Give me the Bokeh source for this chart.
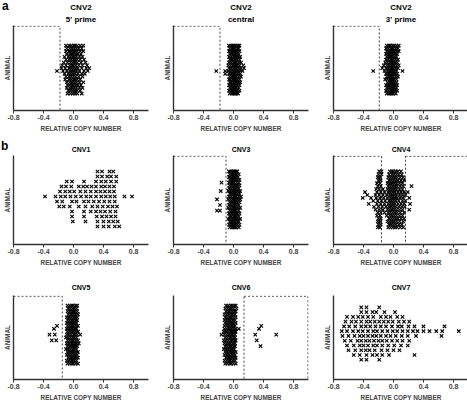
from bokeh.plotting import figure
from bokeh.models import Range1d, FixedTicker, NumeralTickFormatter, Title, GridBox, Div
from bokeh.embed import file_html
from bokeh.resources import INLINE

FONT = "Liberation Sans"
TICK_VALUES = [-0.8, -0.4, 0.0, 0.4, 0.8]
X_AXIS_LABEL = "RELATIVE COPY NUMBER"
Y_AXIS_LABEL = "ANIMAL"
PANEL_LETTERS = ["a", "b"]

# ---- data: each panel is a list of animal rows (bottom -> top), values = relative copy number
cnv2_5prime = [
    [-0.08, -0.04, -0.01, 0.02, 0.05, 0.11],
    [-0.07, -0.04, -0.01, 0.02, 0.05, 0.09],
    [-0.09, -0.05, -0.02, 0.01, 0.04, 0.08, 0.12],
    [-0.08, -0.05, -0.02, 0.0, 0.03, 0.06, 0.10],
    [-0.09, -0.05, -0.02, 0.01, 0.04, 0.08, 0.13],
    [-0.11, -0.06, -0.03, 0.0, 0.02, 0.05, 0.09],
    [-0.10, -0.06, -0.03, 0.0, 0.03, 0.07, 0.12],
    [-0.12, -0.07, -0.04, -0.01, 0.02, 0.06, 0.11, 0.15],
    [-0.22, -0.14, -0.09, -0.05, -0.02, 0.01, 0.04, 0.08, 0.14, 0.19],
    [-0.16, -0.11, -0.06, -0.03, 0.0, 0.03, 0.06, 0.11, 0.17, 0.21],
    [-0.15, -0.10, -0.05, -0.02, 0.0, 0.03, 0.07, 0.12, 0.18],
    [-0.13, -0.08, -0.04, -0.01, 0.02, 0.05, 0.10, 0.16],
    [-0.10, -0.06, -0.03, 0.0, 0.02, 0.05, 0.09, 0.14],
    [-0.12, -0.07, -0.04, -0.01, 0.01, 0.04, 0.08, 0.12],
    [-0.09, -0.05, -0.02, 0.0, 0.03, 0.06, 0.10],
    [-0.10, -0.06, -0.03, 0.0, 0.02, 0.05, 0.09, 0.13],
    [-0.09, -0.05, -0.02, 0.01, 0.04, 0.07, 0.11],
    [-0.10, -0.06, -0.03, 0.0, 0.02, 0.05, 0.09, 0.13],
]
cnv2_central = [
    [-0.05, -0.02, 0.0, 0.02, 0.04, 0.06],
    [-0.06, -0.03, -0.01, 0.01, 0.03, 0.05, 0.08],
    [-0.05, -0.02, 0.0, 0.02, 0.04, 0.07],
    [-0.06, -0.03, -0.01, 0.01, 0.03, 0.05, 0.08],
    [-0.05, -0.03, 0.0, 0.02, 0.04, 0.06, 0.09],
    [-0.06, -0.04, -0.01, 0.01, 0.03, 0.05, 0.08],
    [-0.05, -0.02, 0.0, 0.02, 0.04, 0.07, 0.10],
    [-0.11, -0.06, -0.03, -0.01, 0.01, 0.03, 0.06, 0.09],
    [-0.23, -0.11, -0.07, -0.04, -0.01, 0.01, 0.03, 0.06, 0.09, 0.12],
    [-0.06, -0.03, 0.0, 0.02, 0.04, 0.07, 0.10, 0.14],
    [-0.07, -0.04, -0.01, 0.01, 0.03, 0.05, 0.08, 0.13],
    [-0.06, -0.03, 0.0, 0.02, 0.04, 0.07, 0.10],
    [-0.05, -0.03, -0.01, 0.01, 0.03, 0.05, 0.08],
    [-0.06, -0.03, 0.0, 0.02, 0.04, 0.06, 0.09],
    [-0.05, -0.02, 0.0, 0.02, 0.04, 0.07],
    [-0.06, -0.03, -0.01, 0.01, 0.03, 0.05, 0.08],
    [-0.05, -0.02, 0.0, 0.02, 0.05, 0.07],
    [-0.06, -0.03, -0.01, 0.01, 0.03, 0.06, 0.08],
]
cnv2_3prime = [
    [-0.09, -0.06, -0.04, -0.02, 0.0, 0.03],
    [-0.10, -0.07, -0.04, -0.02, 0.0, 0.02, 0.05],
    [-0.09, -0.06, -0.03, -0.01, 0.01, 0.04],
    [-0.10, -0.07, -0.05, -0.02, 0.0, 0.02, 0.05],
    [-0.08, -0.05, -0.03, -0.01, 0.01, 0.04],
    [-0.11, -0.08, -0.05, -0.03, -0.01, 0.01, 0.04],
    [-0.09, -0.06, -0.04, -0.02, 0.0, 0.03, 0.06],
    [-0.10, -0.07, -0.05, -0.02, 0.0, 0.02, 0.05],
    [-0.27, -0.12, -0.08, -0.05, -0.03, -0.01, 0.01, 0.04, 0.12],
    [-0.15, -0.10, -0.07, -0.04, -0.02, 0.0, 0.03, 0.06],
    [-0.13, -0.09, -0.06, -0.03, -0.01, 0.01, 0.04, 0.07],
    [-0.11, -0.08, -0.05, -0.03, -0.01, 0.02, 0.05],
    [-0.10, -0.07, -0.04, -0.02, 0.0, 0.03, 0.06],
    [-0.09, -0.06, -0.04, -0.02, 0.01, 0.04],
    [-0.10, -0.07, -0.05, -0.02, 0.0, 0.02, 0.05],
    [-0.09, -0.06, -0.03, -0.01, 0.01, 0.04, 0.07],
    [-0.10, -0.07, -0.04, -0.02, 0.0, 0.03, 0.06],
    [-0.09, -0.06, -0.04, -0.01, 0.01, 0.04, 0.07],
]
cnv1 = [
    [0.32, 0.40, 0.47, 0.55, 0.61],
    [-0.01, 0.16, 0.32, 0.40, 0.47, 0.53, 0.59],
    [-0.02, 0.14, 0.31, 0.38, 0.44, 0.50, 0.56],
    [-0.02, 0.14, 0.23, 0.30, 0.36, 0.42, 0.49, 0.56],
    [-0.19, -0.13, -0.05, 0.07, 0.16, 0.25, 0.32, 0.39, 0.46, 0.52, 0.58],
    [-0.22, -0.15, -0.02, 0.04, 0.14, 0.20, 0.27, 0.34, 0.41, 0.48, 0.55],
    [-0.38, -0.24, -0.17, -0.11, -0.04, 0.03, 0.10, 0.17, 0.23, 0.30, 0.37, 0.43, 0.49, 0.55, 0.68, 0.78],
    [-0.18, -0.11, -0.05, 0.01, 0.09, 0.16, 0.23, 0.30, 0.36, 0.42, 0.48, 0.54],
    [-0.16, -0.10, -0.03, 0.07, 0.13, 0.18, 0.24, 0.30, 0.37, 0.42, 0.48, 0.54],
    [-0.09, -0.02, 0.14, 0.30, 0.37, 0.43, 0.50, 0.57],
    [0.32, 0.38, 0.45, 0.50, 0.57],
    [0.32, 0.38, 0.48, 0.53],
]
cnv3 = [
    [-0.05, -0.02, 0.0, 0.02, 0.04, 0.07],
    [-0.06, -0.03, -0.01, 0.01, 0.03, 0.05, 0.08],
    [-0.05, -0.02, 0.0, 0.02, 0.05, 0.07],
    [-0.07, -0.04, -0.01, 0.01, 0.03, 0.06, 0.09],
    [-0.05, -0.03, 0.0, 0.02, 0.04, 0.07],
    [-0.06, -0.03, -0.01, 0.01, 0.03, 0.05, 0.08],
    [-0.22, -0.18, -0.05, -0.02, 0.0, 0.02, 0.04, 0.07],
    [-0.07, -0.04, -0.01, 0.01, 0.03, 0.06, 0.09],
    [-0.18, -0.06, -0.03, 0.0, 0.02, 0.04, 0.07],
    [-0.05, -0.02, 0.0, 0.02, 0.05, 0.08],
    [-0.22, -0.07, -0.04, -0.01, 0.01, 0.03, 0.06, 0.09],
    [-0.06, -0.03, 0.0, 0.02, 0.04, 0.07, 0.10],
    [-0.05, -0.02, 0.0, 0.02, 0.05, 0.08],
    [-0.17, -0.07, -0.04, -0.01, 0.01, 0.03, 0.06, 0.09],
    [-0.06, -0.03, 0.0, 0.02, 0.04, 0.07],
    [-0.05, -0.02, 0.01, 0.03, 0.05, 0.08],
    [-0.16, -0.06, -0.03, -0.01, 0.01, 0.04, 0.07],
    [-0.05, -0.02, 0.0, 0.02, 0.05, 0.08],
    [-0.06, -0.03, -0.01, 0.01, 0.03, 0.06],
    [-0.05, -0.02, 0.0, 0.02, 0.04, 0.07],
    [-0.06, -0.03, -0.01, 0.01, 0.03, 0.05],
]
cnv4 = [
    [-0.21, -0.18, -0.07, -0.04, -0.01, 0.02, 0.05, 0.09, 0.13],
    [-0.20, -0.17, -0.06, -0.03, 0.0, 0.03, 0.07, 0.11],
    [-0.21, -0.18, -0.08, -0.05, -0.02, 0.01, 0.04, 0.08, 0.13],
    [-0.20, -0.17, -0.06, -0.03, 0.0, 0.03, 0.06, 0.10, 0.14],
    [-0.22, -0.18, -0.09, -0.05, -0.02, 0.01, 0.04, 0.08, 0.12],
    [-0.21, -0.17, -0.12, -0.07, -0.04, -0.01, 0.02, 0.05, 0.09, 0.14],
    [-0.24, -0.19, -0.14, -0.08, -0.05, -0.02, 0.01, 0.04, 0.08, 0.12, 0.21],
    [-0.26, -0.20, -0.15, -0.10, -0.06, -0.03, 0.0, 0.03, 0.07, 0.11, 0.15],
    [-0.33, -0.22, -0.17, -0.12, -0.07, -0.04, -0.01, 0.02, 0.06, 0.10, 0.14, 0.22],
    [-0.27, -0.21, -0.16, -0.11, -0.06, -0.03, 0.0, 0.03, 0.07, 0.12, 0.16],
    [-0.41, -0.30, -0.23, -0.18, -0.13, -0.08, -0.04, -0.01, 0.02, 0.05, 0.09, 0.13, 0.21],
    [-0.35, -0.24, -0.19, -0.14, -0.09, -0.05, -0.02, 0.01, 0.04, 0.08, 0.12, 0.16],
    [-0.38, -0.22, -0.17, -0.12, -0.07, -0.04, -0.01, 0.02, 0.06, 0.10, 0.14, 0.19],
    [-0.23, -0.19, -0.14, -0.08, -0.05, -0.02, 0.01, 0.04, 0.08, 0.12],
    [-0.21, -0.17, -0.07, -0.04, -0.01, 0.02, 0.05, 0.09, 0.13, 0.24],
    [-0.22, -0.18, -0.08, -0.05, -0.02, 0.01, 0.04, 0.08, 0.12],
    [-0.20, -0.17, -0.06, -0.03, 0.0, 0.03, 0.06, 0.10, 0.14],
    [-0.21, -0.18, -0.07, -0.04, -0.01, 0.02, 0.05, 0.09, 0.13],
    [-0.20, -0.16, -0.06, -0.02, 0.01, 0.04, 0.07, 0.11],
    [-0.19, -0.16, -0.05, -0.02, 0.0, 0.03, 0.06, 0.10],
]
cnv5 = [
    [-0.08, -0.05, -0.02, 0.0, 0.03, 0.06],
    [-0.09, -0.06, -0.03, -0.01, 0.01, 0.04],
    [-0.07, -0.04, -0.02, 0.01, 0.03, 0.06],
    [-0.09, -0.06, -0.03, 0.0, 0.02, 0.05],
    [-0.08, -0.05, -0.02, 0.0, 0.03, 0.06],
    [-0.10, -0.07, -0.04, -0.01, 0.01, 0.04],
    [-0.08, -0.05, -0.02, 0.0, 0.02, 0.05],
    [-0.09, -0.06, -0.03, -0.01, 0.02, 0.04, 0.07],
    [-0.29, -0.23, -0.08, -0.05, -0.02, 0.0, 0.03, 0.06],
    [-0.10, -0.07, -0.04, -0.01, 0.01, 0.04],
    [-0.32, -0.25, -0.09, -0.06, -0.03, 0.0, 0.02, 0.05, 0.09],
    [-0.08, -0.05, -0.02, 0.0, 0.03, 0.06],
    [-0.26, -0.09, -0.06, -0.03, -0.01, 0.02, 0.04],
    [-0.22, -0.08, -0.05, -0.02, 0.0, 0.03, 0.06],
    [-0.09, -0.06, -0.03, -0.01, 0.01, 0.04],
    [-0.08, -0.05, -0.02, 0.0, 0.03, 0.05],
    [-0.09, -0.06, -0.03, 0.0, 0.02, 0.05],
    [-0.07, -0.04, -0.02, 0.01, 0.03, 0.06],
    [-0.08, -0.05, -0.02, 0.0, 0.02, 0.05],
    [-0.07, -0.04, -0.01, 0.01, 0.04],
    [-0.08, -0.05, -0.02, 0.0, 0.03, 0.05],
]
cnv6 = [
    [-0.11, -0.08, -0.05, -0.03, 0.0, 0.03],
    [-0.12, -0.09, -0.06, -0.04, -0.01, 0.02],
    [-0.10, -0.07, -0.05, -0.02, 0.01, 0.03],
    [-0.12, -0.09, -0.06, -0.03, -0.01, 0.02],
    [-0.11, -0.08, -0.05, -0.02, 0.0, 0.03],
    [-0.13, -0.10, -0.07, -0.04, -0.02, 0.01],
    [-0.11, -0.08, -0.05, -0.03, 0.0, 0.02, 0.36],
    [-0.12, -0.09, -0.06, -0.04, -0.01, 0.02],
    [-0.13, -0.10, -0.07, -0.04, -0.02, 0.01, 0.03, 0.31],
    [-0.11, -0.08, -0.05, -0.03, 0.0, 0.02],
    [-0.16, -0.12, -0.09, -0.06, -0.03, -0.01, 0.02, 0.29, 0.57],
    [-0.13, -0.10, -0.07, -0.04, -0.02, 0.01, 0.03],
    [-0.12, -0.09, -0.06, -0.03, 0.0, 0.03, 0.07, 0.34],
    [-0.12, -0.09, -0.06, -0.03, -0.01, 0.02, 0.37],
    [-0.11, -0.08, -0.05, -0.02, 0.0, 0.03],
    [-0.12, -0.09, -0.06, -0.04, -0.01, 0.02],
    [-0.11, -0.08, -0.05, -0.03, 0.0, 0.03],
    [-0.12, -0.09, -0.06, -0.03, -0.01, 0.02],
    [-0.10, -0.07, -0.05, -0.02, 0.01, 0.03],
    [-0.11, -0.08, -0.05, -0.03, 0.0, 0.04],
    [-0.10, -0.07, -0.04, -0.02, 0.01, 0.03],
]
cnv7 = [
    [-0.43, -0.36, -0.19],
    [-0.53, -0.45, -0.36, -0.28, -0.22, -0.15, -0.06, 0.28],
    [-0.60, -0.51, -0.43, -0.37, -0.32, -0.25, -0.16, -0.08, 0.00, 0.08],
    [-0.62, -0.53, -0.45, -0.40, -0.34, -0.27, -0.22, -0.15, -0.07, 0.01, 0.10, 0.19],
    [-0.65, -0.57, -0.48, -0.43, -0.37, -0.32, -0.26, -0.20, -0.15, -0.09, -0.02, 0.05, 0.12, 0.21],
    [-0.68, -0.60, -0.52, -0.45, -0.40, -0.34, -0.28, -0.23, -0.17, -0.10, -0.04, 0.03, 0.11, 0.19, 0.30, 0.64],
    [-0.69, -0.62, -0.54, -0.47, -0.41, -0.34, -0.27, -0.22, -0.15, -0.08, -0.01, 0.05, 0.12, 0.19, 0.26, 0.32, 0.40, 0.48, 0.57, 0.65, 0.87],
    [-0.66, -0.59, -0.51, -0.43, -0.37, -0.31, -0.24, -0.17, -0.10, -0.02, 0.06, 0.11, 0.20, 0.28, 0.40, 0.68],
    [-0.64, -0.56, -0.50, -0.43, -0.36, -0.31, -0.25, -0.19, -0.13, -0.07, -0.01, 0.07, 0.14, 0.21],
    [-0.62, -0.54, -0.47, -0.41, -0.34, -0.27, -0.17, -0.10, -0.04, 0.05, 0.12],
    [-0.43, -0.36, -0.28, -0.23, -0.12, 0.02],
    [-0.43, -0.36, -0.19],
]

# boxes (dashed threshold regions): (left, right) in copy number
boxes_cnv2_5prime = [(-0.8, -0.18)]
boxes_cnv2_central = [(-0.8, -0.18)]
boxes_cnv2_3prime = [(-0.8, -0.19)]
boxes_cnv1 = []
boxes_cnv3 = [(-0.8, -0.10)]
boxes_cnv4 = [(-0.8, -0.16), (0.16, 1.0)]
boxes_cnv5 = [(-0.8, -0.15)]
boxes_cnv6 = [(0.14, 1.0)]
boxes_cnv7 = []

# ---- layout parameters
FRAME_W = 135
ROW_FRAME_H = [85, 89, 84]
ROW_BTOP = [23, 15, 21]
ROW_BBOT = [30, 30, 24]
COL_BLEFT = [12, 12, 12]
COL_BRIGHT = [12, 12, 2]
COL_TITLE_OFFSET = [-7, -7, -13]
ROW_TITLE_SIZE = ["8px", "7px", "7px"]
ROW_TITLE_STANDOFF = [3, 6, 9]


def flatten(rows):
    xs, ys = [], []
    for i, r in enumerate(rows):
        for v in r:
            xs.append(v)
            ys.append(i)
    return xs, ys


def make_panel(rows, titles, boxes, yr, r, c):
    p = figure(frame_width=FRAME_W, frame_height=ROW_FRAME_H[r],
               min_border_left=COL_BLEFT[c], min_border_right=COL_BRIGHT[c],
               min_border_top=ROW_BTOP[r], min_border_bottom=ROW_BBOT[r],
               x_range=Range1d(-0.8, 1.0), y_range=Range1d(*yr),
               output_backend="svg", toolbar_location=None)
    p.title = None
    p.outline_line_color = None
    p.grid.visible = False
    p.background_fill_color = "white"
    p.border_fill_color = "white"

    for i, t in enumerate(reversed(titles)):
        p.add_layout(Title(text=t, align="center", text_font=FONT,
                           text_font_style="bold", text_font_size=ROW_TITLE_SIZE[r],
                           text_color="black",
                           standoff=ROW_TITLE_STANDOFF[r] if i == 0 else 0,
                           offset=COL_TITLE_OFFSET[c]), "above")

    for (l, rr) in boxes:
        p.quad(left=[l], right=[min(rr, 0.993)], bottom=[yr[0]], top=[yr[1] - 0.25],
               fill_color=None, line_color="#444444", line_dash="2 2", line_width=1)

    xs, ys = flatten(rows)
    p.scatter(xs, ys, marker="x", size=4.8, line_color="black", line_width=1.1)

    xa = p.xaxis[0]
    xa.ticker = FixedTicker(ticks=TICK_VALUES)
    xa.formatter = NumeralTickFormatter(format="0.0")
    xa.axis_label = X_AXIS_LABEL
    xa.axis_label_text_font = FONT
    xa.axis_label_text_font_style = "bold"
    xa.axis_label_text_font_size = "6.4px"
    xa.axis_label_standoff = 2
    xa.major_label_text_font = FONT
    xa.major_label_text_font_style = "bold"
    xa.major_label_text_font_size = "7px"
    xa.major_label_standoff = 1
    xa.major_tick_out = 3
    xa.major_tick_in = 0
    xa.minor_tick_line_color = None
    xa.axis_line_width = 1.4
    xa.axis_line_color = "#333333"
    xa.major_tick_line_color = "#333333"

    ya = p.yaxis[0]
    ya.ticker = FixedTicker(ticks=[])
    ya.axis_label = Y_AXIS_LABEL
    ya.axis_label_text_font = FONT
    ya.axis_label_text_font_style = "bold"
    ya.axis_label_text_font_size = "6.4px"
    ya.axis_label_standoff = 3
    ya.major_label_standoff = 0
    ya.major_tick_out = 0
    ya.major_tick_in = 0
    ya.minor_tick_line_color = None
    ya.axis_line_width = 1.4
    ya.axis_line_color = "#333333"
    return p


specs = [
    (cnv2_5prime, ["CNV2", "5' prime"], boxes_cnv2_5prime, (-6.0, 24.1), 0, 0),
    (cnv2_central, ["CNV2", "central"], boxes_cnv2_central, (-6.0, 24.1), 0, 1),
    (cnv2_3prime, ["CNV2", "3' prime"], boxes_cnv2_3prime, (-6.0, 24.1), 0, 2),
    (cnv1, ["CNV1"], boxes_cnv1, (-3.6, 14.2), 1, 0),
    (cnv3, ["CNV3"], boxes_cnv3, (-6.1, 25.7), 1, 1),
    (cnv4, ["CNV4"], boxes_cnv4, (-5.8, 24.4), 1, 2),
    (cnv5, ["CNV5"], boxes_cnv5, (-5.5, 23.5), 2, 0),
    (cnv6, ["CNV6"], boxes_cnv6, (-5.5, 23.5), 2, 1),
    (cnv7, ["CNV7"], boxes_cnv7, (-4.15, 13.5), 2, 2),
]

children = []
for rows_, titles, boxes, yr, r, c in specs:
    children.append((make_panel(rows_, titles, boxes, yr, r, c), r, c))

# panel letters as small overlay Divs sharing the grid cell of the first-column panels
letter_style = {"font-family": FONT, "font-weight": "bold", "font-size": "12px",
                "line-height": "12px", "color": "black"}
div_a = Div(text=PANEL_LETTERS[0], width=12, height=14,
            styles=dict(letter_style, **{"margin-top": "0px", "margin-left": "2px"}))
div_b = Div(text=PANEL_LETTERS[1], width=12, height=14,
            styles=dict(letter_style, **{"margin-top": "0px", "margin-left": "1px"}))
children.append((div_a, 0, 0))
children.append((div_b, 1, 0))

layout = GridBox(children=children, spacing=0)

open("out.html", "w").write(file_html(layout, INLINE))
